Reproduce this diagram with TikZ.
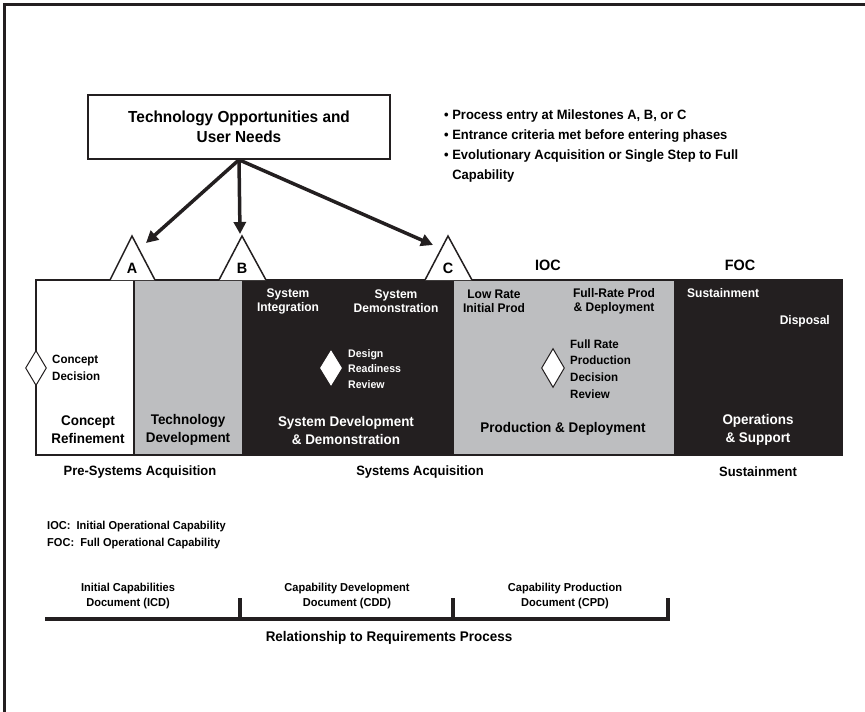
\documentclass[tikz,border=0pt]{standalone}
\usepackage{fontspec}
\setmainfont{Liberation Sans}[FakeStretch=0.96]
\usepackage{xcolor}
\usepackage{tikz}
\usetikzlibrary{shapes.geometric, arrows.meta, positioning, calc}
\definecolor{phasegray}{RGB}{189,190,192}
\definecolor{phaseblack}{RGB}{35,31,32}
\tikzstyle{needsbox} = [rectangle, draw=phaseblack, line width=1.6pt, minimum width=302pt, minimum height=64pt, align=center, font=\fontsize{16}{20}\selectfont\bfseries]
\tikzstyle{phase} = [rectangle, draw=phaseblack, line width=1.6pt, minimum height=175pt, inner sep=0pt]
\tikzstyle{biglbl} = [align=center, inner sep=0pt, font=\fontsize{14}{18}\selectfont\bfseries]
\tikzstyle{smalllbl} = [align=center, inner sep=0pt, font=\fontsize{12.5}{14}\selectfont\bfseries]
\tikzstyle{notelbl} = [align=left, inner sep=0pt, font=\fontsize{11.5}{16.5}\selectfont\bfseries]
\tikzstyle{milelbl} = [inner sep=0pt, font=\fontsize{15}{18}\selectfont\bfseries]
\tikzstyle{arealbl} = [inner sep=0pt, font=\fontsize{13.5}{16}\selectfont\bfseries]
\tikzstyle{docslbl} = [align=center, inner sep=0pt, font=\fontsize{11.5}{14.5}\selectfont\bfseries]
\tikzstyle{decision} = [diamond, draw=phaseblack, fill=white, line width=1pt, inner sep=0pt]
\tikzstyle{milestone} = [draw=phaseblack, fill=white, line width=1.5pt, line join=miter]
\tikzstyle{arrow} = [line width=3.5pt, -{Triangle[length=12pt,width=12pt]}, draw=phaseblack]
\tikzstyle{reqline} = [line width=3.5pt, draw=phaseblack]

\begin{document}
\begin{tikzpicture}[x=1pt, y=-1pt]
    \useasboundingbox (0,0) rectangle (865,712);
    \draw[line width=3pt, phaseblack] (865,4) -- (4,4) -- (4,712);

    \node[needsbox] (needs) at (239,127) {Technology Opportunities and\\User Needs};
    \node[anchor=north west, align=left, inner sep=0pt, font=\fontsize{13.5}{20}\selectfont\bfseries] (notes) at (444,110)
        {\textbullet\ Process entry at Milestones A, B, or C\\
         \textbullet\ Entrance criteria met before entering phases\\
         \textbullet\ Evolutionary Acquisition or Single Step to Full\\
         \phantom{\textbullet\ }Capability};

    \node[phase, fill=phaseblack, minimum width=599pt] (sdd) at (542.5,367.5) {};
    \node[phase, fill=white, minimum width=98pt] (cr) at (85,367.5) {};
    \node[phase, fill=phasegray, minimum width=109pt] (td) at (188.5,367.5) {};
    \node[phase, fill=phasegray, minimum width=222pt] (pd) at (564,367.5) {};

    \draw[milestone] (110,280) -- (132,236) -- (155,280);
    \draw[milestone] (219,280) -- (242,236) -- (266,280);
    \draw[milestone] (425,280) -- (448,236) -- (472,280);
    \node[milelbl] (msa) at (132,268) {A};
    \node[milelbl] (msb) at (242,268) {B};
    \node[milelbl] (msc) at (448,268) {C};
    \node[milelbl] (ioc) at (548,265) {IOC};
    \node[milelbl] (foc) at (740,265) {FOC};

    \coordinate (tipa) at (146,243);
    \coordinate (tipb) at (240,234);
    \coordinate (tipc) at (433,245);
    \draw[arrow] (needs.south) -- (tipa);
    \draw[arrow] (needs.south) -- (tipb);
    \draw[arrow] (needs.south) -- (tipc);

    \node[decision, minimum width=21pt, minimum height=35pt] (cd) at (36,368) {};
    \node[smalllbl, align=left, anchor=west, font=\fontsize{12}{17}\selectfont\bfseries] (cdtext) at (52,368) {Concept\\Decision};
    \node[biglbl] (crtext) at (88,430) {Concept\\Refinement};
    \node[biglbl] (tdtext) at (188,430) {Technology\\Development};

    \node[smalllbl, text=white] (sitext) at (288,301) {System\\Integration};
    \node[smalllbl, text=white] (sdtext) at (396,301) {System\\Demonstration};
    \node[decision, draw=white, minimum width=21pt, minimum height=34pt] (drr) at (331,368) {};
    \node[notelbl, text=white, anchor=west, font=\fontsize{11}{15.5}\selectfont\bfseries] (drrtext) at (348,369) {Design\\Readiness\\Review};
    \node[biglbl, text=white] (sddtext) at (346,430) {System Development\\\& Demonstration};

    \node[smalllbl] (lrip) at (494,301) {Low Rate\\Initial Prod};
    \node[smalllbl] (frp) at (614,301) {Full-Rate Prod\\\& Deployment};
    \node[decision, minimum width=23pt, minimum height=39pt] (frpdr) at (553,368) {};
    \node[notelbl, anchor=west, font=\fontsize{12}{16.7}\selectfont\bfseries] (frpdrtext) at (570,369) {Full Rate\\Production\\Decision\\Review};
    \node[biglbl] (pdtext) at (563,429) {Production \& Deployment};

    \node[smalllbl, text=white, anchor=west] (sust) at (687,293) {Sustainment};
    \node[smalllbl, text=white, anchor=east] (disp) at (830,321) {Disposal};
    \node[biglbl, text=white] (ostext) at (758,430) {Operations\\\& Support};

    \node[arealbl] (presys) at (140,472) {Pre-Systems Acquisition};
    \node[arealbl] (sysacq) at (420,472) {Systems Acquisition};
    \node[arealbl] (sustarea) at (758,472) {Sustainment};

    \node[notelbl, anchor=west] (legend) at (47,535)
        {IOC:\ \ Initial Operational Capability\\FOC:\ \ Full Operational Capability};

    \coordinate (reqstart) at (45,619);
    \coordinate (reqend) at (670,619);
    \draw[reqline] (reqstart) -- (reqend);
    \draw[reqline] (240,598) -- (240,619);
    \draw[reqline] (453,598) -- (453,619);
    \draw[reqline] (668,598) -- (668,620.5);
    \node[docslbl] (icd) at (128,596) {Initial Capabilities\\Document (ICD)};
    \node[docslbl] (cdd) at (347,596) {Capability Development\\Document (CDD)};
    \node[docslbl] (cpd) at (565,596) {Capability Production\\Document (CPD)};
    \node[arealbl, font=\fontsize{14}{16}\selectfont\bfseries] (reqproc) at (389,638) {Relationship to Requirements Process};
\end{tikzpicture}
\end{document}
